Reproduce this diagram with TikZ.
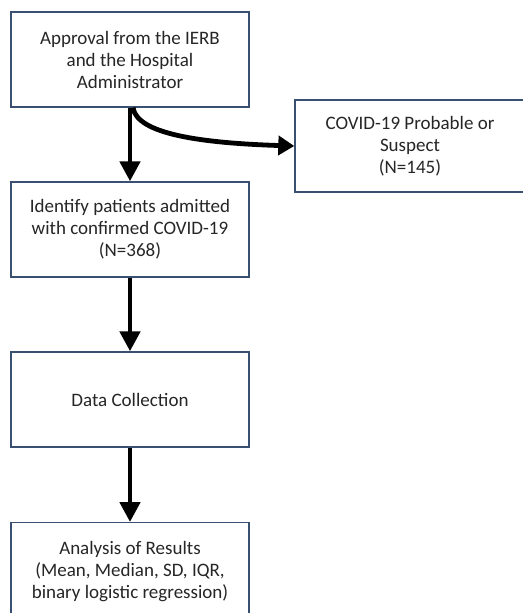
\documentclass[tikz,border=0pt]{standalone}
\usepackage{fontspec}
\setmainfont{Carlito}
\usetikzlibrary{arrows.meta}
\definecolor{boxline}{HTML}{3A5070}
\definecolor{txt}{HTML}{262626}
\tikzset{
  boxfont/.style={font=\fontsize{19}{22}\selectfont},
  flowbox/.style={draw=boxline, line width=1.4pt, fill=white, text=txt,
    align=center, boxfont, inner sep=0pt},
  bigarrow/.style={line width=4.8pt, -{Triangle[width=20pt,length=20pt]}},
  sidearrow/.style={line width=4.8pt, -{Triangle[width=19pt,length=16pt]}}
}
\begin{document}
\begin{tikzpicture}[x=1pt, y=-1pt]
\useasboundingbox (0,0) rectangle (522,613);
\node[flowbox, minimum width=238pt, minimum height=95pt] (A) at (130,59.5)
  {Approval from the IERB\\and the Hospital\\Administrator};
\node[flowbox, minimum width=230pt, minimum height=92pt] (B) at (410,146)
  {COVID-19 Probable or\\Suspect\\(N=145)};
\node[flowbox, minimum width=238pt, minimum height=95pt] (C) at (130,229.5)
  {Identify patients admitted\\with confirmed COVID-19\\(N=368)};
\node[flowbox, minimum width=238pt, minimum height=95pt] (D) at (130,399.5)
  {Data Collection};
\node[flowbox, minimum width=238pt, minimum height=110pt, anchor=north] (E) at (130,522)
  {};
\node[text=txt, align=center, boxfont, anchor=north, inner sep=0pt] (Et) at ([yshift=-19pt]E.north)
  {Analysis of Results\\(Mean, Median, SD, IQR,\\binary logistic regression)};
\draw[bigarrow] (A.south) -- (C.north);
\draw[sidearrow] ([xshift=3pt]A.south) .. controls +(4,26) and +(-95,-3) .. (B.west);
\draw[bigarrow] (C.south) -- (D.north);
\draw[bigarrow] (D.south) -- (E.north);
\end{tikzpicture}
\end{document}
